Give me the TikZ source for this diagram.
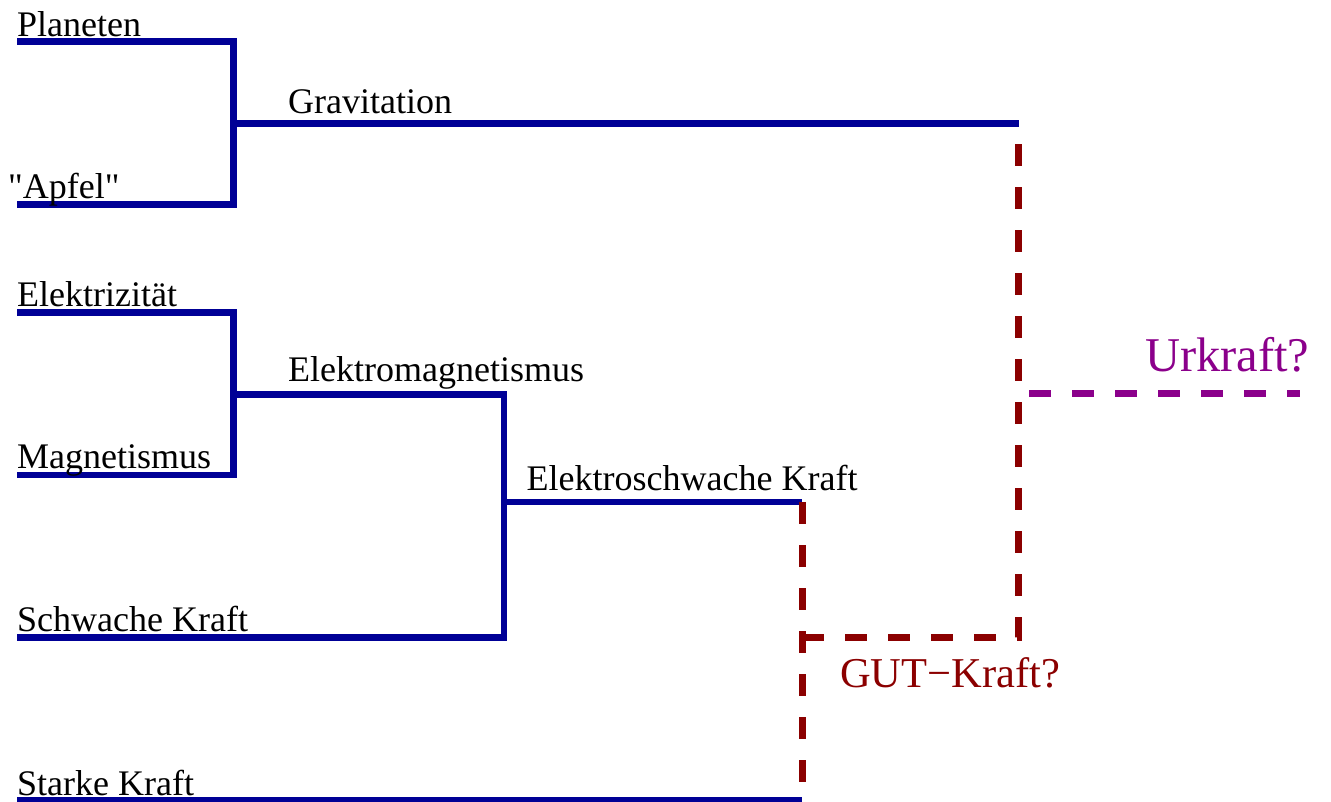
\documentclass[tikz,border=0pt]{standalone}
\usepackage{fontspec}
\setmainfont{Liberation Serif}[Ligatures=TeXOff]
\definecolor{fblue}{RGB}{0,0,150}
\definecolor{fred}{RGB}{139,0,0}
\definecolor{fpurple}{RGB}{139,0,139}
\begin{document}
\begin{tikzpicture}[x=1pt,y=-1pt,
  blueline/.style={draw=fblue,line width=6.5pt,line join=miter},
  redline/.style={draw=fred,line width=7pt,dash pattern=on 22pt off 21pt},
  purpleline/.style={draw=fpurple,line width=7pt,dash pattern=on 22pt off 21pt},
  lbl/.style={anchor=base west,inner sep=0pt,font=\fontsize{36}{40}\selectfont},
]
\useasboundingbox (0,0) rectangle (1331,801);
% coordinates
\coordinate (pl) at (17,41.5);
\coordinate (plj) at (233.5,41.5);
\coordinate (ap) at (17,204.5);
\coordinate (apj) at (233.5,204.5);
\coordinate (gs) at (233.5,123.5);
\coordinate (ge) at (1018.5,123.5);
\coordinate (el) at (17,312.5);
\coordinate (elj) at (233.5,312.5);
\coordinate (ma) at (17,475);
\coordinate (maj) at (233.5,475);
\coordinate (ems) at (233.5,394.5);
\coordinate (emj) at (504,394.5);
\coordinate (swj) at (504,637.5);
\coordinate (sw) at (17,637.5);
\coordinate (ews) at (504,502);
\coordinate (ewe) at (802,502);
\coordinate (st) at (17,800);
\coordinate (ste) at (802,800);
\coordinate (rd) at (802,797);
\coordinate (gut) at (802,637);
\coordinate (gutr) at (1018.5,637);
\coordinate (urs) at (1029,393.5);
\coordinate (ure) at (1300,393.5);
% blue tree
\draw[blueline] (pl) -- (plj) -- (apj) -- (ap);
\draw[blueline] (gs) -- (ge);
\draw[blueline] (el) -- (elj) -- (maj) -- (ma);
\draw[blueline] (ems) -- (emj) -- (swj) -- (sw);
\draw[blueline] (ews) -- (ewe);
\draw[blueline] (st) -- (ste);
% dashed
\draw[redline] (ewe) -- (rd);
\draw[redline] (gut) -- (gutr) -- (ge);
\draw[purpleline] (urs) -- (ure);
% labels
\node[lbl] (tpl) at (17,36) {Planeten};
\node[lbl] (tap) at (8,198) {"Apfel"};
\node[lbl] (tgr) at (288,113.3) {Gravitation};
\node[lbl] (tel) at (17,306.5) {Elektrizität};
\node[lbl] (tma) at (17,468.5) {Magnetismus};
\node[lbl] (tem) at (288,381.7) {Elektromagnetismus};
\node[lbl] (tew) at (526.5,490) {Elektroschwache Kraft};
\node[lbl] (tsw) at (17,631.5) {Schwache Kraft};
\node[lbl] (tst) at (17,795) {Starke Kraft};
\node[lbl,text=fred,font=\fontsize{42.5}{48}\selectfont] (tgut) at (840,687) {GUT−Kraft?};
\node[lbl,text=fpurple,font=\fontsize{48.5}{54}\selectfont] (tur) at (1145,371.7) {Urkraft?};
\end{tikzpicture}
\end{document}
